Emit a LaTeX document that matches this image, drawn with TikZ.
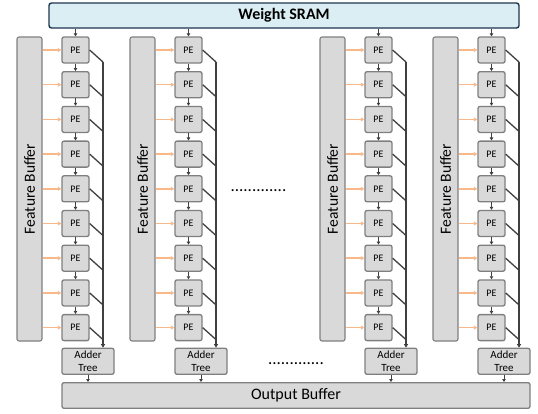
\documentclass[tikz,border=0pt]{standalone}
\usepackage{fontspec}
\setmainfont{Carlito}
\usetikzlibrary{arrows.meta}
\definecolor{boxfill}{HTML}{D9D9D9}
\definecolor{boxdraw}{HTML}{7F7F7F}
\definecolor{sramfill}{HTML}{DAEEF3}
\definecolor{sramdraw}{HTML}{1F3550}
\definecolor{feedc}{HTML}{F8B88A}
\definecolor{wirec}{HTML}{404040}
\tikzset{
  pebox/.style={draw=boxdraw, fill=boxfill, line width=1.3pt, rounded corners=2pt,
    minimum width=27pt, minimum height=26pt, inner sep=0pt, font=\fontsize{10}{12}\selectfont},
  fbuf/.style={draw=boxdraw, fill=boxfill, line width=1.1pt, rounded corners=2pt,
    minimum width=25pt, minimum height=304pt, inner sep=0pt},
  addbox/.style={draw=boxdraw, fill=boxfill, line width=1.3pt, rounded corners=2pt,
    minimum width=52pt, minimum height=26pt, inner sep=0pt, align=center,
    font=\fontsize{11}{13.7}\selectfont},
  outbox/.style={draw=boxdraw, fill=boxfill, line width=1.3pt, rounded corners=2pt,
    minimum width=468pt, minimum height=25.6pt, inner sep=0pt, font=\fontsize{16}{18}\selectfont},
  sram/.style={draw=sramdraw, fill=sramfill, line width=1.4pt, rounded corners=2.5pt,
    minimum width=470pt, minimum height=25pt, inner sep=0pt, font=\bfseries\fontsize{16}{18}\selectfont},
  feed/.style={draw=feedc, line width=1.5pt, -{Triangle[length=3.5pt,width=4pt]}},
  down/.style={draw=wirec, line width=1pt, -{Triangle[length=3pt,width=3.5pt]}},
  wire/.style={draw=wirec, line width=1.3pt},
  bus/.style={draw=wirec, line width=1.3pt, -{Triangle[length=3.5pt,width=4pt]}},
  dotsnode/.style={inner sep=0pt, anchor=base, font=\fontsize{17}{17}\selectfont}
}
\begin{document}
\begin{tikzpicture}[x=1pt, y=-1pt]
\useasboundingbox (0,0) rectangle (538,413);
\node[sram] (sram) at (284,15.5) {Weight SRAM};
\node[outbox] (out) at (296,395.5) {Output Buffer};
\foreach \c/\px in {1/62, 2/175, 3/365, 4/478} {
  \node[fbuf] (fb\c) at ({\px-32.5},189) {};
  \node[rotate=90, font=\fontsize{15.5}{18}\selectfont, inner sep=0pt] (fbt\c) at (fb\c.center) {Feature Buffer};
  \foreach \i in {0,...,8} {
    \pgfmathsetmacro{\cy}{50+34.7*\i}
    \node[pebox] (pe\c-\i) at ({\px+13.5},\cy) {PE};
    \coordinate (b\c-\i) at ({\px+41},{\cy+12});
    \draw[feed] (fb\c.east |- pe\c-\i.west) -- (pe\c-\i.west);
    \draw[wire] (pe\c-\i.east) -- (b\c-\i);
  }
  \draw[down] (sram.south -| pe\c-0.north) -- (pe\c-0.north);
  \foreach \i [evaluate=\i as \j using int(\i+1)] in {0,...,7} {
    \draw[down] (pe\c-\i.south) -- (pe\c-\j.north);
  }
  \node[addbox] (add\c) at ({\px+26},361.3) {Adder\\Tree};
  \draw[bus] (b\c-0) -- (b\c-0 |- add\c.north);
  \draw[down] (add\c.south) -- (add\c.south |- out.north);
}
\node[dotsnode] (dotsA) at (258.5,191) {.............};
\node[dotsnode] (dotsB) at (296,364) {.............};
\end{tikzpicture}
\end{document}
